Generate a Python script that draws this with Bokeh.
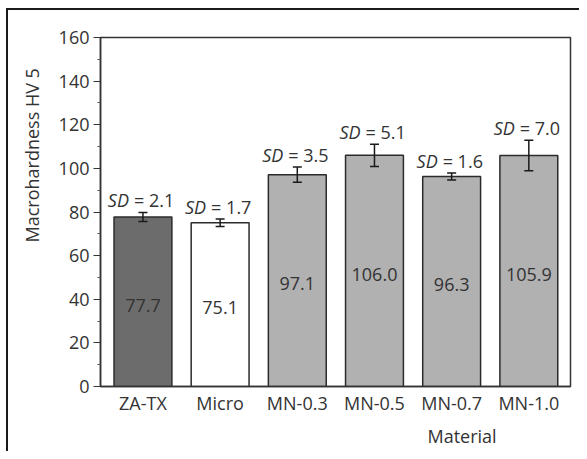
from bokeh.plotting import figure
from bokeh.models import (ColumnDataSource, Range1d, FixedTicker, Whisker, TeeHead, Title)
from bokeh.core.properties import value
from bokeh.embed import file_html
from bokeh.resources import INLINE

materials = ["ZA-TX", "Micro", "MN-0.3", "MN-0.5", "MN-0.7", "MN-1.0"]
hardness = [77.7, 75.1, 97.1, 106.0, 96.3, 105.9]
sd = [2.1, 1.7, 3.5, 5.1, 1.6, 7.0]
colors = ["#6c6c6c", "#ffffff", "#b1b1b1", "#b1b1b1", "#b1b1b1", "#b1b1b1"]
y_ticks = [0, 20, 40, 60, 80, 100, 120, 140, 160]
y_minor = [10, 30, 50, 70, 90, 110, 130, 150]

FONT = value("Open Sans")
FS = "18px"
TXT = "#333333"

x = list(range(len(materials)))
src = ColumnDataSource(dict(
    x=x, top=hardness, color=colors,
    upper=[h + s for h, s in zip(hardness, sd)],
    lower=[h - s for h, s in zip(hardness, sd)],
    mid=[h / 2 - 1.5 for h in hardness],
    val=["%.1f" % h for h in hardness],
    sdlab=["= %.1f" % s for s in sd],
    sd_y=[h + s + 0.2 for h, s in zip(hardness, sd)],
    sdname=["SD"] * len(materials),
))

p = figure(width=579, height=451, output_backend="svg", toolbar_location=None,
           x_range=Range1d(-0.55, 5.54), y_range=Range1d(0, 160),
           min_border_left=100, min_border_right=9, min_border_top=37, min_border_bottom=64)

p.vbar(x="x", top="top", bottom=0, width=0.75, source=src, fill_color="color",
       line_color="#2b2b2b", line_width=1.5)

wh = Whisker(base="x", upper="upper", lower="lower", source=src,
             line_color="#1a1a1a", line_width=1.5, level="overlay",
             upper_head=TeeHead(size=9, line_color="#1a1a1a", line_width=1.5),
             lower_head=TeeHead(size=9, line_color="#1a1a1a", line_width=1.5))
p.add_layout(wh)

p.text(x="x", y="mid", text="val", source=src, text_font=FONT, text_font_size=FS,
       text_color=TXT, text_align="center", text_baseline="middle")
p.text(x="x", y="sd_y", text="sdname", source=src, text_font=FONT, text_font_size=FS,
       text_font_style="italic", text_color=TXT, text_align="right",
       text_baseline="bottom", x_offset=-14)
p.text(x="x", y="sd_y", text="sdlab", source=src, text_font=FONT, text_font_size=FS,
       text_color=TXT, text_align="left", text_baseline="bottom", x_offset=-9)

p.xgrid.visible = False
p.ygrid.visible = False
p.outline_line_color = "#333333"
p.outline_line_width = 1.5
p.border_fill_alpha = 0

xa = p.xaxis[0]
xa.ticker = FixedTicker(ticks=x)
xa.major_label_overrides = {i: m for i, m in zip(x, materials)}
xa.major_tick_out = 0
xa.major_tick_in = 0
xa.minor_tick_out = 0
xa.minor_tick_in = 0
xa.axis_line_color = "#333333"
xa.axis_line_width = 1.5
xa.major_label_text_font = "Open Sans"
xa.major_label_text_font_size = FS
xa.major_label_text_color = TXT
xa.major_label_standoff = 4

ya = p.yaxis[0]
ya.ticker = FixedTicker(ticks=y_ticks, minor_ticks=y_minor)
ya.major_tick_out = 7
ya.major_tick_in = 0
ya.minor_tick_out = 3
ya.minor_tick_in = 0
ya.axis_line_color = "#333333"
ya.axis_line_width = 1.5
ya.major_tick_line_color = "#333333"
ya.minor_tick_line_color = "#555555"
ya.major_label_text_font = "Open Sans"
ya.major_label_text_font_size = FS
ya.major_label_text_color = TXT
ya.major_label_standoff = 4

p.add_layout(Title(text="Macrohardness HV 5", align="left", offset=144,
                   text_font="Open Sans", text_font_size=FS, text_font_style="normal",
                   text_color=TXT, standoff=23), "left")
p.add_layout(Title(text="Material", align="left", offset=327,
                   text_font="Open Sans", text_font_size=FS, text_font_style="normal",
                   text_color=TXT, standoff=8), "below")

p.styles = {
    "background-image": "linear-gradient(#1a1a1a, #1a1a1a), linear-gradient(#1a1a1a, #1a1a1a)",
    "background-size": "100% 2px, 2px 100%",
    "background-position": "6px 8px, 6px 8px",
    "background-repeat": "no-repeat",
}

open("out.html", "w").write(file_html(p, INLINE))
